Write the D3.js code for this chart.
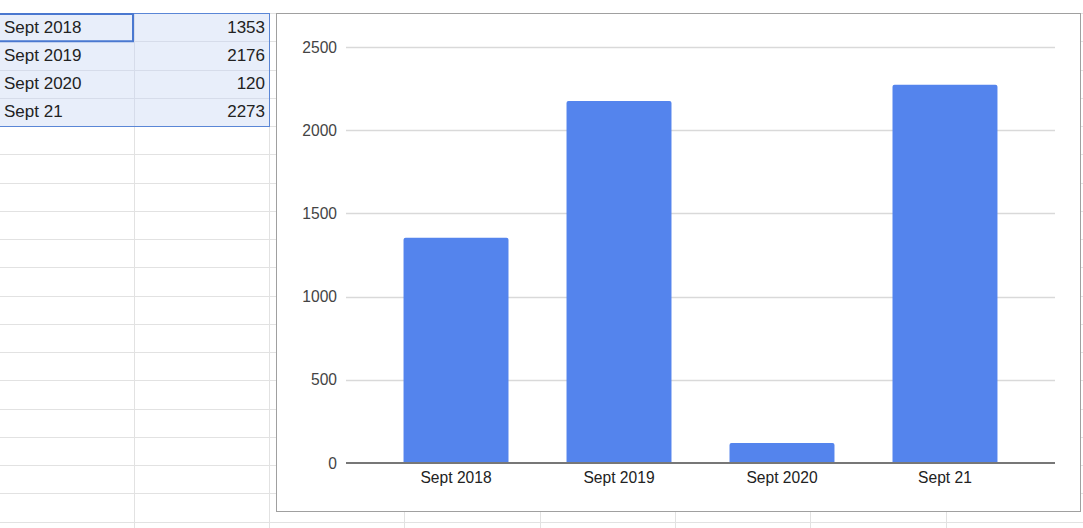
<!DOCTYPE html>
<html><head><meta charset="utf-8">
<script src="https://cdn.jsdelivr.net/npm/d3@7"></script>
<style>
html,body{margin:0;padding:0;background:#fff;overflow:hidden;}
svg{display:block;font-family:"Liberation Sans",Arial,sans-serif;}
</style></head>
<body>
<svg id="c" width="1083" height="528"></svg>
<script>
const categories = ["Sept 2018", "Sept 2019", "Sept 2020", "Sept 21"];
const values = [1353, 2176, 120, 2273];
const yTicks = [0, 500, 1000, 1500, 2000, 2500];

const svg = d3.select("#c");

// spreadsheet grid
const rowTop = 13, rowH = 28.25, nRows = 18;
const colX = [0, 134, 269, 404, 540, 675, 810, 946, 1083];
const grid = svg.append("g");
for (let i = 0; i <= nRows; i++) {
  const yy = Math.round(rowTop + i * rowH) + 0.5;
  grid.append("line").attr("x1", 0).attr("x2", 1083).attr("y1", yy).attr("y2", yy)
    .attr("stroke", "#e2e2e2").attr("stroke-width", 1);
}
colX.slice(1).forEach(cx => {
  grid.append("line").attr("x1", cx + 0.5).attr("x2", cx + 0.5).attr("y1", rowTop).attr("y2", 528)
    .attr("stroke", "#e2e2e2").attr("stroke-width", 1);
});

// selection
const selBottom = rowTop + 4 * rowH;
svg.append("rect").attr("x", 0).attr("y", rowTop).attr("width", 269).attr("height", selBottom - rowTop)
  .attr("fill", "#e8eefa");
for (let i = 1; i < 4; i++) {
  const yy = Math.round(rowTop + i * rowH) + 0.5;
  svg.append("line").attr("x1", 0).attr("x2", 269).attr("y1", yy).attr("y2", yy).attr("stroke", "#d6dcea");
}
svg.append("line").attr("x1", 134.5).attr("x2", 134.5).attr("y1", rowTop).attr("y2", selBottom).attr("stroke", "#d6dcea");
svg.append("rect").attr("x", -1).attr("y", rowTop + 0.5).attr("width", 270.5).attr("height", selBottom - rowTop)
  .attr("fill", "none").attr("stroke", "#5a86d6").attr("stroke-width", 1);
svg.append("rect").attr("x", -1).attr("y", rowTop + 1).attr("width", 134).attr("height", rowH - 1)
  .attr("fill", "none").attr("stroke", "#4a78d0").attr("stroke-width", 2);

const tbl = svg.append("g").attr("font-size", 17).attr("fill", "#222");
categories.forEach((c, i) => {
  const yc = rowTop + i * rowH + rowH / 2 + 1;
  tbl.append("text").attr("x", 4).attr("y", yc).attr("dominant-baseline", "middle").text(c);
  tbl.append("text").attr("x", 265).attr("y", yc).attr("text-anchor", "end").attr("dominant-baseline", "middle").text(values[i]);
});

// chart box
svg.append("rect").attr("x", 276.5).attr("y", 13.5).attr("width", 804).attr("height", 498)
  .attr("fill", "#fff").attr("stroke", "#a0a0a0").attr("stroke-width", 1);

const x = d3.scaleBand().domain(categories).range([346, 1055]).paddingInner(0.356).paddingOuter(0.353);
const y = d3.scaleLinear().domain([0, 2500]).range([463, 47]);

const chart = svg.append("g");
// gridlines
chart.append("g").selectAll("line").data(yTicks.filter(d => d > 0)).join("line")
  .attr("x1", 346).attr("x2", 1055)
  .attr("y1", d => Math.round(y(d)) + 0.5).attr("y2", d => Math.round(y(d)) + 0.5)
  .attr("stroke", "#d9d9d9").attr("stroke-width", 1.3);

// y axis labels
const yAxis = d3.axisLeft(y).tickValues(yTicks).tickSize(0).tickPadding(0).tickFormat(d3.format("d"));
const ya = chart.append("g").attr("transform", "translate(337,0)").call(yAxis);
ya.select(".domain").remove();
ya.selectAll("text").attr("font-size", 15.6).attr("fill", "#444").attr("font-family", "'Liberation Sans',Arial,sans-serif");

// bars with rounded tops
const r = 2;
chart.append("g").selectAll("path").data(categories).join("path")
  .attr("fill", "#5484ed")
  .attr("d", (c, i) => {
    const x0 = x(c), w = x.bandwidth(), y0 = y(values[i]), yb = y(0);
    return `M${x0},${yb}V${y0 + r}Q${x0},${y0} ${x0 + r},${y0}H${x0 + w - r}Q${x0 + w},${y0} ${x0 + w},${y0 + r}V${yb}Z`;
  });

// baseline
chart.append("line").attr("x1", 346).attr("x2", 1055).attr("y1", y(0)).attr("y2", y(0))
  .attr("stroke", "#777").attr("stroke-width", 2);

// x axis labels
const xAxis = d3.axisBottom(x).tickSize(0).tickPadding(0);
const xa = chart.append("g").attr("transform", "translate(0,472)").call(xAxis);
xa.select(".domain").remove();
xa.selectAll("text").attr("font-size", 15.6).attr("fill", "#222").attr("dy", "0.71em").attr("font-family", "'Liberation Sans',Arial,sans-serif");
</script>
</body></html>
